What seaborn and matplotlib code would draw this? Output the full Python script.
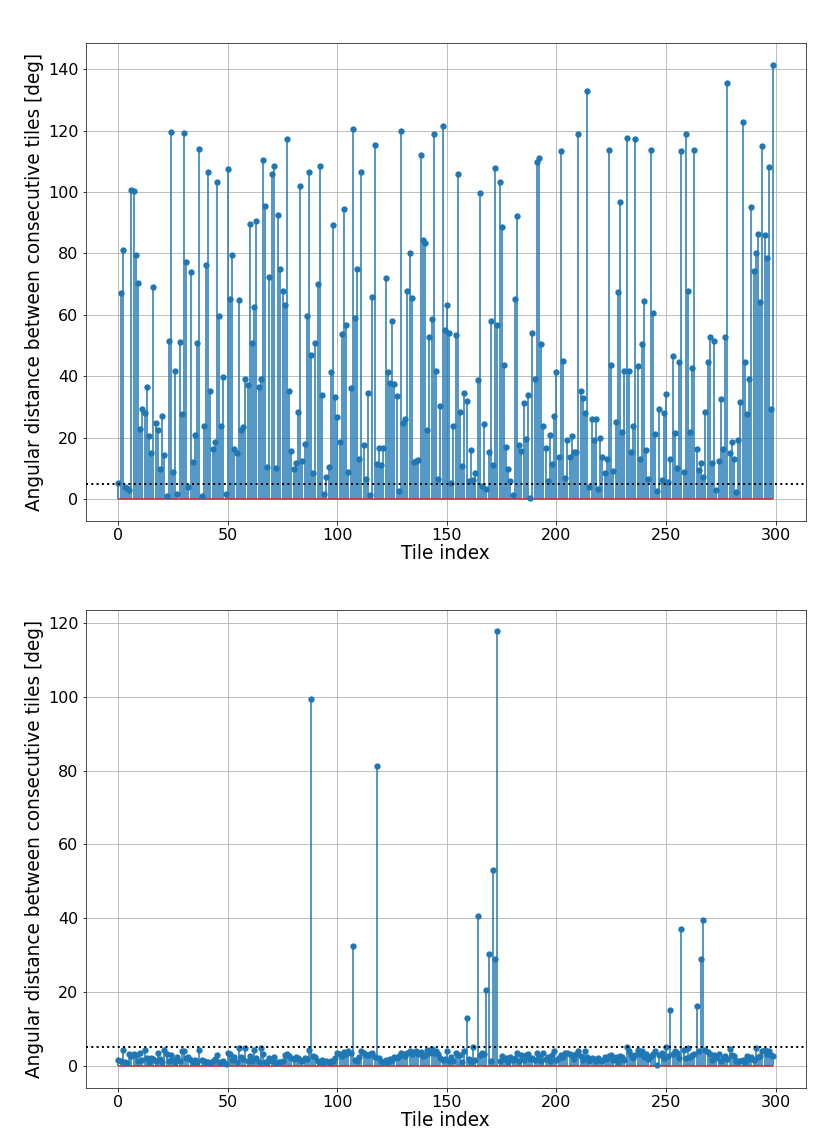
"""
Stem plots of the angular distance between consecutive tiles,
before (top) and after (bottom) reordering.
"""

import matplotlib
matplotlib.use("Agg")
import matplotlib.pyplot as plt
import numpy as np
import seaborn as sns

# Angular distance [deg] per tile, original ordering
angles_before = [
    5.4, 67.2, 81.0, 4.0, 3.5, 2.9, 100.5, 100.4, 79.6, 70.3,
    22.8, 29.5, 28.0, 36.5, 20.4, 15.1, 69.1, 24.8, 22.6, 9.7,
    27.2, 14.5, 0.9, 51.6, 119.5, 8.7, 41.7, 1.8, 51.0, 27.6,
    119.2, 77.1, 4.1, 74.1, 12.2, 21.0, 50.8, 114.1, 1.0, 23.7,
    76.3, 106.6, 35.1, 16.3, 18.6, 103.2, 59.6, 23.9, 39.9, 1.8,
    107.4, 65.0, 79.6, 16.3, 14.9, 64.9, 22.6, 23.6, 39.1, 37.0,
    89.7, 50.9, 62.4, 90.7, 36.5, 39.1, 110.3, 95.3, 10.5, 72.4,
    105.7, 108.5, 10.3, 92.6, 74.9, 67.8, 63.3, 117.2, 35.3, 15.7,
    9.8, 11.8, 28.5, 101.8, 12.5, 17.9, 59.6, 106.6, 46.8, 8.6,
    50.7, 69.9, 108.4, 33.9, 1.8, 7.1, 10.4, 41.5, 89.2, 33.3,
    26.6, 18.6, 53.9, 94.3, 56.8, 9.0, 36.1, 120.4, 59.0, 74.8,
    13.2, 106.4, 17.7, 6.4, 34.6, 1.2, 65.7, 115.2, 11.4, 16.5,
    11.1, 16.8, 72.1, 41.4, 37.7, 57.9, 37.5, 33.5, 2.6, 119.8,
    24.9, 26.2, 67.8, 80.0, 65.4, 12.2, 12.5, 12.9, 112.2, 84.5,
    83.5, 22.5, 52.8, 58.7, 118.9, 41.7, 6.4, 30.3, 121.4, 55.1,
    63.3, 54.2, 5.4, 23.7, 53.6, 105.7, 28.5, 10.9, 34.7, 31.8,
    6.0, 16.1, 6.3, 8.4, 38.8, 99.8, 4.3, 24.5, 3.4, 15.4,
    57.9, 11.1, 107.7, 56.7, 103.4, 88.5, 43.6, 17.0, 9.9, 5.9,
    1.3, 65.0, 92.2, 17.5, 15.8, 31.3, 19.5, 34.0, 0.4, 54.1,
    39.1, 109.7, 110.9, 50.4, 23.7, 16.5, 6.0, 21.0, 11.4, 27.2,
    41.5, 13.8, 113.3, 45.0, 6.8, 19.1, 13.8, 20.7, 15.4, 15.4,
    118.8, 35.1, 32.9, 27.9, 132.9, 4.0, 26.0, 19.3, 26.1, 3.4,
    20.0, 13.6, 8.5, 13.0, 113.6, 43.7, 9.2, 25.0, 67.5, 96.7,
    22.0, 41.7, 117.5, 41.8, 15.4, 23.9, 117.1, 43.5, 13.0, 50.4,
    64.5, 16.1, 6.6, 113.7, 60.7, 21.2, 2.6, 29.5, 6.3, 28.2,
    34.1, 5.5, 13.0, 46.6, 21.6, 10.1, 44.8, 113.4, 8.8, 119.0,
    67.7, 22.0, 42.8, 113.6, 16.3, 9.5, 11.8, 7.2, 28.3, 44.6,
    52.9, 11.8, 51.5, 2.9, 12.3, 32.5, 16.3, 52.9, 135.4, 15.1,
    18.5, 13.0, 2.3, 19.3, 31.5, 122.9, 44.8, 27.8, 39.1, 95.1,
    74.2, 80.1, 86.4, 64.3, 114.9, 86.0, 78.6, 108.2, 29.2, 141.4,
]

# Angular distance [deg] per tile, after reordering
angles_after = [
    1.5, 1.2, 4.3, 1.0, 0.8, 3.2, 2.6, 3.1, 2.8, 1.4,
    3.4, 1.6, 4.4, 2.0, 1.1, 2.2, 1.8, 1.2, 3.5, 1.9,
    1.0, 4.4, 3.2, 1.3, 2.9, 1.6, 0.9, 2.4, 1.2, 4.1,
    3.9, 2.1, 2.3, 1.7, 0.9, 1.5, 1.1, 4.3, 1.6, 1.4,
    0.9, 1.0, 0.7, 1.2, 1.9, 3.0, 1.1, 0.8, 1.3, 0.6,
    3.5, 3.2, 1.5, 2.3, 1.0, 4.8, 2.3, 1.8, 4.8, 1.4,
    2.7, 1.2, 4.3, 2.2, 1.0, 4.9, 3.2, 0.9, 1.1, 2.2,
    1.4, 2.3, 0.8, 1.1, 1.0, 1.2, 2.8, 3.1, 2.6, 2.0,
    1.8, 2.4, 2.2, 1.6, 1.3, 2.1, 1.9, 4.2, 99.3, 2.7,
    2.5, 1.3, 1.0, 1.6, 0.9, 1.2, 1.1, 1.4, 1.3, 2.2,
    3.5, 3.1, 2.6, 3.8, 3.2, 4.0, 3.6, 32.5, 1.6, 1.2,
    2.5, 3.9, 3.4, 3.0, 2.8, 3.3, 3.5, 2.4, 81.3, 2.2,
    1.4, 1.1, 1.6, 1.0, 1.9, 1.5, 2.3, 2.0, 2.6, 3.4,
    3.1, 2.7, 3.6, 3.9, 3.2, 3.7, 4.1, 3.3, 3.8, 2.6,
    3.0, 4.3, 3.6, 4.5, 3.4, 4.0, 3.2, 2.1, 1.5, 1.8,
    4.1, 1.2, 2.4, 1.3, 3.4, 3.0, 2.8, 1.0, 4.1, 12.9,
    1.8, 1.1, 5.0, 1.6, 40.5, 2.9, 3.4, 3.3, 20.5, 30.2,
    1.4, 53.0, 29.0, 117.7, 1.3, 2.6, 1.8, 2.0, 0.9, 2.4,
    1.5, 2.1, 3.4, 1.2, 2.8, 1.6, 3.0, 3.1, 1.9, 2.2,
    1.7, 3.4, 2.6, 1.4, 3.4, 1.8, 2.5, 1.3, 2.9, 4.1,
    1.6, 2.0, 3.0, 2.3, 3.4, 3.6, 3.2, 2.8, 1.9, 3.1,
    3.9, 2.7, 1.5, 3.9, 2.4, 1.2, 2.1, 1.9, 1.3, 2.0,
    1.6, 1.2, 2.3, 1.8, 2.6, 2.8, 1.5, 2.4, 1.1, 2.6,
    2.3, 1.7, 5.0, 4.1, 3.0, 2.2, 2.9, 4.3, 3.3, 4.1,
    2.4, 3.2, 1.9, 2.7, 3.1, 4.1, 0.1, 2.8, 3.5, 2.2,
    5.0, 2.6, 15.0, 3.2, 4.1, 3.6, 2.0, 37.2, 4.4, 2.1,
    4.7, 2.5, 2.9, 3.1, 16.1, 4.1, 28.9, 39.4, 4.3, 3.8,
    3.2, 1.7, 2.9, 2.2, 3.2, 1.3, 2.1, 2.6, 1.8, 4.5,
    3.0, 2.6, 1.2, 1.4, 1.3, 1.5, 1.1, 2.7, 1.9, 2.3,
    1.6, 4.8, 2.4, 2.7, 3.9, 4.3, 3.1, 4.1, 2.9, 2.7,
]

threshold_deg = 5.0

STEM_COLOR = "#1f77b4"
BASE_COLOR = "#d62728"

sns.set_theme(style="ticks", rc={
    "axes.grid": True,
    "grid.color": "#b0b0b0",
    "grid.linewidth": 0.8,
    "axes.edgecolor": "#222222",
    "axes.linewidth": 0.8,
    "xtick.color": "black",
    "ytick.color": "black",
    "xtick.major.size": 3.5,
    "ytick.major.size": 3.5,
    "xtick.major.width": 0.8,
    "ytick.major.width": 0.8,
    "axes.labelcolor": "black",
    "text.color": "black",
})
plt.rcParams["font.family"] = ["DejaVu Sans"]


def stem_panel(ax, values):
    """Draw one stem plot with the threshold line."""
    idx = np.arange(len(values))
    vals = np.asarray(values)
    ax.vlines(idx, 0, vals, color=STEM_COLOR, linewidth=1.5, zorder=2)
    ax.hlines(0, idx[0], idx[-1], color=BASE_COLOR, linewidth=1.5, zorder=2.5)
    sns.scatterplot(x=idx, y=vals, ax=ax, color=STEM_COLOR, s=40,
                    linewidth=0, zorder=3, legend=False)
    ax.axhline(threshold_deg, color="black", linestyle=":", linewidth=2, zorder=4)
    ax.margins(x=0.05, y=0.05)
    ax.set_xticks([0, 50, 100, 150, 200, 250, 300])
    ax.set_xlabel("Tile index", fontsize=18.5, labelpad=1)
    ax.set_ylabel("Angular distance between consecutive tiles [deg]", fontsize=18.5,
                  labelpad=4)
    ax.tick_params(labelsize=16)
    ax.grid(True)


fig, axes = plt.subplots(2, 1, figsize=(831 / 72, 1134 / 72), dpi=72)
fig.subplots_adjust(left=0.103, right=0.970, top=0.962, bottom=0.041, hspace=0.186)

stem_panel(axes[0], angles_before)
stem_panel(axes[1], angles_after)

fig.savefig("out.png", dpi=72)
